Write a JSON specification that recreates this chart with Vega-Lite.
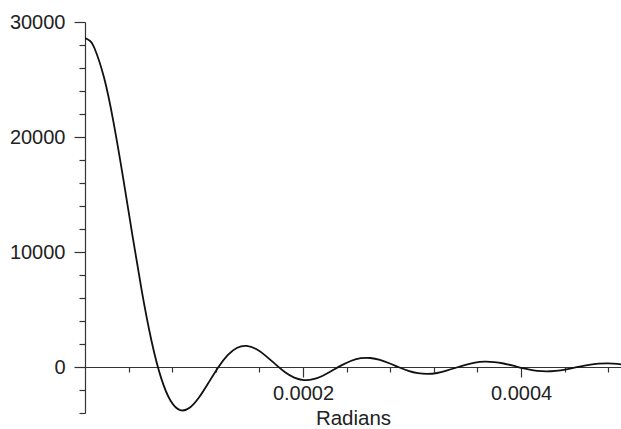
{
  "$schema": "https://vega.github.io/schema/vega-lite/v6.json",
  "width": 536,
  "height": 391,
  "autosize": {"type": "none"},
  "padding": {"left": 85, "top": 22, "right": 0, "bottom": 16},
  "background": "white",
  "config": {
    "view": {"stroke": null},
    "axis": {
      "grid": false,
      "domainColor": "#333333",
      "domainWidth": 1.2,
      "tickColor": "#333333",
      "tickWidth": 1.2,
      "labelColor": "#222222",
      "labelFont": "Liberation Sans",
      "labelFontSize": 20,
      "titleFont": "Liberation Sans",
      "titleFontSize": 20.5,
      "titleFontWeight": "normal",
      "titleColor": "#222222"
    }
  },
  "data": {
    "values": [
      {"radians": 0, "value": 28600},
      {"radians": 0.00000436, "value": 28378},
      {"radians": 0.00000873, "value": 27719},
      {"radians": 0.00001745, "value": 25171},
      {"radians": 0.00002618, "value": 21275},
      {"radians": 0.0000349, "value": 16494},
      {"radians": 0.00004363, "value": 11374},
      {"radians": 0.00005236, "value": 6466},
      {"radians": 0.00006108, "value": 2245},
      {"radians": 0.00006981, "value": -944},
      {"radians": 0.00007853, "value": -2937},
      {"radians": 0.00008726, "value": -3747},
      {"radians": 0.00009599, "value": -3550},
      {"radians": 0.00010471, "value": -2638},
      {"radians": 0.00011344, "value": -1353},
      {"radians": 0.00012216, "value": -38},
      {"radians": 0.00013089, "value": 1031},
      {"radians": 0.00013962, "value": 1677},
      {"radians": 0.00014834, "value": 1838},
      {"radians": 0.00015707, "value": 1559},
      {"radians": 0.00016579, "value": 971},
      {"radians": 0.00017452, "value": 249},
      {"radians": 0.00018325, "value": -430},
      {"radians": 0.00019197, "value": -919},
      {"radians": 0.0002007, "value": -1136},
      {"radians": 0.00020942, "value": -1065},
      {"radians": 0.00021815, "value": -757},
      {"radians": 0.00022688, "value": -309},
      {"radians": 0.0002356, "value": 161},
      {"radians": 0.00024433, "value": 545},
      {"radians": 0.00025305, "value": 763},
      {"radians": 0.00026178, "value": 782},
      {"radians": 0.00027051, "value": 617},
      {"radians": 0.00027923, "value": 323},
      {"radians": 0.00028796, "value": -20},
      {"radians": 0.00029668, "value": -329},
      {"radians": 0.00030541, "value": -532},
      {"radians": 0.00031414, "value": -597},
      {"radians": 0.00032286, "value": -522},
      {"radians": 0.00033159, "value": -318},
      {"radians": 0.00034031, "value": -65},
      {"radians": 0.00034904, "value": 191},
      {"radians": 0.00035777, "value": 385},
      {"radians": 0.00036649, "value": 466},
      {"radians": 0.00037522, "value": 431},
      {"radians": 0.00038394, "value": 305},
      {"radians": 0.00039267, "value": 114},
      {"radians": 0.0004014, "value": -98},
      {"radians": 0.00041012, "value": -268},
      {"radians": 0.00041885, "value": -367},
      {"radians": 0.00042757, "value": -371},
      {"radians": 0.0004363, "value": -287},
      {"radians": 0.00044503, "value": -139},
      {"radians": 0.00045375, "value": 34},
      {"radians": 0.00046248, "value": 188},
      {"radians": 0.0004712, "value": 289},
      {"radians": 0.00047993, "value": 316},
      {"radians": 0.00048866, "value": 267},
      {"radians": 0.00049738, "value": 156}
    ]
  },
  "mark": {"type": "line", "color": "#111111", "strokeWidth": 1.8, "interpolate": "natural", "clip": true},
  "encoding": {
    "x": {
      "field": "radians",
      "type": "quantitative",
      "scale": {"domain": [0, 0.0004917], "nice": false, "zero": false},
      "axis": {
        "orient": "bottom",
        "offset": -46,
        "values": [0.00004, 0.00008, 0.00012, 0.00016, 0.0002, 0.00024, 0.00028, 0.00032, 0.00036, 0.0004, 0.00044, 0.00048],
        "tickSize": {"condition": {"test": "abs(datum.value - 0.0002) < 1e-9 || abs(datum.value - 0.0004) < 1e-9", "value": 10}, "value": 5},
        "labelExpr": "abs(datum.value - 0.0002) < 1e-9 || abs(datum.value - 0.0004) < 1e-9 ? format(datum.value, '.4f') : ''",
        "labelPadding": 6,
        "labelFlush": false,
        "labelOverlap": false,
        "title": "Radians",
        "titlePadding": 5
      }
    },
    "y": {
      "field": "value",
      "type": "quantitative",
      "scale": {"domain": [-4000, 30000], "nice": false, "zero": false},
      "axis": {
        "values": [-4000, -2000, 0, 2000, 4000, 6000, 8000, 10000, 12000, 14000, 16000, 18000, 20000, 22000, 24000, 26000, 28000, 30000],
        "tickSize": {"condition": {"test": "datum.value % 10000 === 0", "value": 11}, "value": 6},
        "labelExpr": "datum.value % 10000 === 0 ? format(datum.value, 'd') : ''",
        "labelPadding": 9,
        "labelFlush": false,
        "labelOverlap": false,
        "title": null
      }
    }
  }
}
